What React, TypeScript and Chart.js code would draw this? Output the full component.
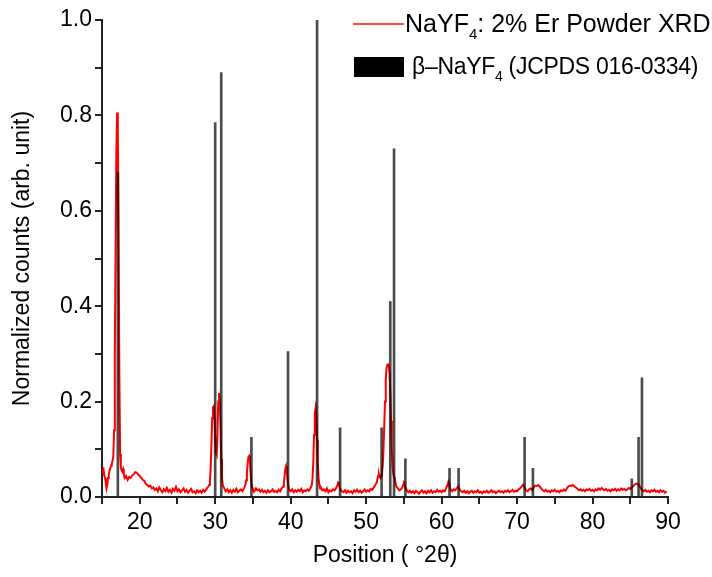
import React, { useEffect, useRef } from "react";
import { Chart, registerables } from "chart.js";

Chart.register(...registerables);

const FONT = "'Liberation Sans', Arial, Helvetica, sans-serif";

// Reference pattern: beta-NaYF4, JCPDS 016-0334 (2theta, normalized intensity)
const stickPositions = [17.1, 30.0, 30.8, 34.8, 39.65, 43.5, 46.55, 52.05, 53.2, 53.7, 55.2, 61.05, 62.25, 71.0, 72.1, 85.2, 86.1, 86.55];
const stickHeights = [0.68, 0.785, 0.89, 0.125, 0.305, 1.0, 0.145, 0.145, 0.41, 0.73, 0.08, 0.06, 0.06, 0.125, 0.06, 0.038, 0.125, 0.25];

// Measured scan: NaYF4:2% Er powder XRD  [2theta, normalized counts]
const xrdScan: [number, number][] = [
  [15.0, 0.060], [15.1, 0.055], [15.2, 0.058], [15.3, 0.045], [15.4, 0.040], [15.5, 0.030], [15.6, 0.018], [15.7, 0.025],
  [15.8, 0.040], [15.9, 0.048], [16.0, 0.055], [16.1, 0.060], [16.2, 0.066], [16.3, 0.070], [16.4, 0.076], [16.5, 0.085],
  [16.6, 0.140], [16.7, 0.300], [16.8, 0.520], [16.9, 0.720], [17.0, 0.806], [17.1, 0.760], [17.2, 0.550], [17.3, 0.250],
  [17.4, 0.090], [17.5, 0.062], [17.6, 0.056], [17.7, 0.053], [17.8, 0.058], [17.9, 0.048],
  [18.0, 0.040], [18.2, 0.044], [18.4, 0.036], [18.6, 0.042], [18.8, 0.040], [19.0, 0.045], [19.2, 0.048], [19.4, 0.052],
  [19.6, 0.051], [19.8, 0.047], [20.0, 0.044], [20.2, 0.040], [20.4, 0.036], [20.6, 0.034], [20.8, 0.028], [21.0, 0.025],
  [21.2, 0.022], [21.4, 0.024], [21.6, 0.018], [21.8, 0.020], [22.0, 0.015],
  [22.2, 0.018], [22.4, 0.012], [22.6, 0.020], [22.8, 0.014], [23.0, 0.010], [23.2, 0.016], [23.4, 0.012], [23.6, 0.019],
  [23.8, 0.011], [24.0, 0.015], [24.2, 0.009], [24.4, 0.017], [24.6, 0.013], [24.8, 0.021], [25.0, 0.012], [25.2, 0.016],
  [25.4, 0.010], [25.6, 0.014], [25.8, 0.018], [26.0, 0.011], [26.2, 0.015], [26.4, 0.009], [26.6, 0.013], [26.8, 0.017],
  [27.0, 0.010], [27.2, 0.012], [27.4, 0.008], [27.6, 0.014], [27.8, 0.010], [28.0, 0.013], [28.2, 0.009], [28.4, 0.015],
  [28.6, 0.011], [28.8, 0.016], [29.0, 0.020],
  [29.2, 0.025], [29.3, 0.035], [29.4, 0.060], [29.5, 0.110], [29.6, 0.165], [29.7, 0.188], [29.8, 0.190], [29.9, 0.170],
  [30.0, 0.120], [30.1, 0.092], [30.2, 0.088], [30.3, 0.130], [30.4, 0.200], [30.5, 0.218], [30.6, 0.205], [30.7, 0.150],
  [30.8, 0.080], [30.9, 0.040], [31.0, 0.025], [31.2, 0.018], [31.4, 0.012],
  [31.6, 0.016], [31.8, 0.010], [32.0, 0.014], [32.2, 0.009], [32.4, 0.015], [32.6, 0.011], [32.8, 0.017], [33.0, 0.010],
  [33.2, 0.013], [33.4, 0.016], [33.6, 0.012], [33.8, 0.018], [34.0, 0.025], [34.1, 0.035], [34.2, 0.050], [34.3, 0.070],
  [34.4, 0.084], [34.5, 0.086], [34.6, 0.075], [34.7, 0.050], [34.8, 0.030], [34.9, 0.020], [35.0, 0.016],
  [35.2, 0.012], [35.4, 0.018], [35.6, 0.014], [35.8, 0.016], [36.0, 0.011], [36.2, 0.015], [36.4, 0.010], [36.6, 0.013],
  [36.8, 0.009], [37.0, 0.014], [37.2, 0.010], [37.4, 0.012], [37.6, 0.016], [37.8, 0.011], [38.0, 0.013], [38.2, 0.010],
  [38.4, 0.015], [38.6, 0.012], [38.8, 0.018], [39.0, 0.022], [39.1, 0.030], [39.2, 0.045], [39.3, 0.060], [39.4, 0.065],
  [39.5, 0.055], [39.6, 0.035], [39.7, 0.022], [39.8, 0.016],
  [40.0, 0.012], [40.2, 0.016], [40.4, 0.010], [40.6, 0.014], [40.8, 0.011], [41.0, 0.015], [41.2, 0.012], [41.4, 0.017],
  [41.6, 0.010], [41.8, 0.014], [42.0, 0.012], [42.2, 0.016], [42.4, 0.013], [42.6, 0.018], [42.8, 0.025], [42.9, 0.040],
  [43.0, 0.075], [43.1, 0.130], [43.2, 0.175], [43.3, 0.186], [43.4, 0.170], [43.5, 0.120], [43.6, 0.070], [43.7, 0.040],
  [43.8, 0.025], [43.9, 0.018], [44.0, 0.020],
  [44.2, 0.014], [44.4, 0.016], [44.6, 0.012], [44.8, 0.018], [45.0, 0.010], [45.2, 0.014], [45.4, 0.012], [45.6, 0.016],
  [45.8, 0.014], [46.0, 0.018], [46.2, 0.025], [46.3, 0.030], [46.4, 0.028], [46.5, 0.020], [46.6, 0.015], [46.8, 0.012],
  [47.0, 0.010], [47.2, 0.014], [47.4, 0.009], [47.6, 0.013], [47.8, 0.010], [48.0, 0.012], [48.2, 0.008], [48.4, 0.014],
  [48.6, 0.011], [48.8, 0.015], [49.0, 0.010], [49.2, 0.013], [49.4, 0.009], [49.6, 0.012], [49.8, 0.016], [50.0, 0.011],
  [50.2, 0.014], [50.4, 0.012], [50.6, 0.017], [50.8, 0.015], [51.0, 0.020], [51.2, 0.025], [51.4, 0.030], [51.5, 0.038],
  [51.6, 0.045], [51.7, 0.048], [51.8, 0.042], [51.9, 0.040], [52.0, 0.045], [52.1, 0.050], [52.2, 0.065], [52.3, 0.100],
  [52.4, 0.150], [52.5, 0.200], [52.6, 0.245], [52.7, 0.270], [52.8, 0.277], [52.9, 0.278], [53.0, 0.275], [53.1, 0.260],
  [53.2, 0.220], [53.3, 0.160], [53.4, 0.100], [53.5, 0.065], [53.6, 0.048], [53.7, 0.042], [53.8, 0.038], [53.9, 0.030],
  [54.0, 0.022], [54.2, 0.018], [54.4, 0.014], [54.6, 0.016], [54.8, 0.020], [54.9, 0.025], [55.0, 0.030], [55.1, 0.028],
  [55.2, 0.020], [55.4, 0.014], [55.6, 0.010],
  [55.8, 0.013], [56.0, 0.009], [56.2, 0.012], [56.4, 0.008], [56.6, 0.013], [56.8, 0.010], [57.0, 0.007], [57.2, 0.011],
  [57.4, 0.014], [57.6, 0.009], [57.8, 0.012], [58.0, 0.008], [58.2, 0.013], [58.4, 0.010], [58.6, 0.014], [58.8, 0.009],
  [59.0, 0.012], [59.2, 0.010], [59.4, 0.015], [59.6, 0.011], [59.8, 0.013], [60.0, 0.010], [60.2, 0.014], [60.4, 0.012],
  [60.6, 0.018], [60.8, 0.026], [60.9, 0.032], [61.0, 0.028], [61.1, 0.020], [61.2, 0.015], [61.4, 0.012], [61.6, 0.016],
  [61.8, 0.014], [62.0, 0.018], [62.2, 0.022], [62.4, 0.016], [62.6, 0.012], [62.8, 0.010],
  [63.0, 0.013], [63.2, 0.009], [63.4, 0.012], [63.6, 0.008], [63.8, 0.011], [64.0, 0.013], [64.2, 0.009], [64.4, 0.012],
  [64.6, 0.010], [64.8, 0.014], [65.0, 0.009], [65.2, 0.011], [65.4, 0.008], [65.6, 0.012], [65.8, 0.010], [66.0, 0.013],
  [66.2, 0.009], [66.4, 0.011], [66.6, 0.014], [66.8, 0.010], [67.0, 0.012], [67.2, 0.008], [67.4, 0.011], [67.6, 0.013],
  [67.8, 0.010], [68.0, 0.012], [68.2, 0.009], [68.4, 0.013], [68.6, 0.011], [68.8, 0.014], [69.0, 0.010], [69.2, 0.012],
  [69.4, 0.015], [69.6, 0.011], [69.8, 0.013], [70.0, 0.012], [70.2, 0.016], [70.4, 0.018], [70.6, 0.022], [70.8, 0.026],
  [71.0, 0.020], [71.2, 0.014], [71.4, 0.012], [71.6, 0.016], [71.8, 0.018], [72.0, 0.015], [72.2, 0.020], [72.4, 0.024],
  [72.6, 0.023], [72.8, 0.025], [73.0, 0.022], [73.2, 0.018], [73.4, 0.014], [73.6, 0.012], [73.8, 0.015], [74.0, 0.011],
  [74.2, 0.013], [74.4, 0.010], [74.6, 0.014], [74.8, 0.012], [75.0, 0.015], [75.2, 0.011], [75.4, 0.013], [75.6, 0.010],
  [75.8, 0.014], [76.0, 0.012], [76.2, 0.016], [76.4, 0.013], [76.6, 0.018], [76.8, 0.022], [77.0, 0.024], [77.2, 0.023],
  [77.4, 0.025], [77.6, 0.022], [77.8, 0.020], [78.0, 0.017], [78.2, 0.014], [78.4, 0.016], [78.6, 0.013], [78.8, 0.015],
  [79.0, 0.012], [79.2, 0.016], [79.4, 0.014], [79.6, 0.017], [79.8, 0.013], [80.0, 0.015], [80.2, 0.012], [80.4, 0.016],
  [80.6, 0.014], [80.8, 0.018], [81.0, 0.015], [81.2, 0.019], [81.4, 0.016], [81.6, 0.014], [81.8, 0.017], [82.0, 0.013],
  [82.2, 0.015], [82.4, 0.012], [82.6, 0.016], [82.8, 0.014], [83.0, 0.017], [83.2, 0.013], [83.4, 0.016], [83.6, 0.014],
  [83.8, 0.018], [84.0, 0.015], [84.2, 0.017], [84.4, 0.014], [84.6, 0.016], [84.8, 0.019], [85.0, 0.017], [85.2, 0.020],
  [85.4, 0.023], [85.6, 0.026], [85.8, 0.028], [86.0, 0.027], [86.2, 0.024], [86.4, 0.018], [86.6, 0.014], [86.8, 0.012],
  [87.0, 0.015], [87.2, 0.011], [87.4, 0.013], [87.6, 0.010], [87.8, 0.014], [88.0, 0.012], [88.2, 0.015], [88.4, 0.011],
  [88.6, 0.013], [88.8, 0.010], [89.0, 0.014], [89.2, 0.011], [89.4, 0.013], [89.6, 0.009], [89.8, 0.012],
];

const X_MIN = 15;
const X_MAX = 90;
const Y_MIN = 0;
const Y_MAX = 1.0;

export default function App() {
  const canvasRef = useRef<HTMLCanvasElement | null>(null);

  useEffect(() => {
    const canvas = canvasRef.current;
    if (!canvas) return;
    const chart = new Chart(canvas, {
      type: "line",
      data: {
        datasets: [
          {
            type: "bar",
            label: "β–NaYF4 (JCPDS 016-0334)",
            data: stickPositions.map((x, i) => ({ x, y: stickHeights[i] })),
            backgroundColor: "rgba(0,0,0,0.7)",
            borderWidth: 0,
            barThickness: 2,
            order: 0,
          } as any,
          {
            type: "line",
            label: "NaYF4: 2% Er Powder XRD",
            data: xrdScan.map(([x, y]) => ({ x, y })),
            borderColor: "#ff0000",
            borderWidth: 2,
            pointRadius: 0,
            tension: 0,
            fill: false,
            order: 1,
          } as any,
        ],
      },
      options: {
        animation: false,
        responsive: false,
        layout: { padding: { left: 0, right: 44, top: 20, bottom: 0 } },
        plugins: {
          legend: { display: false },
          tooltip: { enabled: false },
        },
        scales: {
          x: {
            type: "linear",
            min: X_MIN,
            max: X_MAX,
            offset: false,
            afterFit: (s: any) => {
              s.height = 80;
            },
            grid: {
              drawOnChartArea: false,
              drawTicks: true,
              tickLength: 7,
              color: "#222",
              lineWidth: 2,
              offset: false,
            },
            border: { display: true, color: "#222", width: 2 },
            ticks: {
              stepSize: 5,
              autoSkip: false,
              maxRotation: 0,
              padding: 5,
              color: "#000",
              font: { family: FONT, size: 23 },
              callback: (v: any) => (Number(v) % 10 === 0 ? String(v) : ""),
            },
            title: {
              display: true,
              text: "Position ( °2θ)",
              color: "#000",
              font: { family: FONT, size: 23 },
              padding: { top: 0, bottom: 8 },
            },
          },
          y: {
            type: "linear",
            min: Y_MIN,
            max: Y_MAX,
            afterFit: (s: any) => {
              s.width = 102;
            },
            grid: {
              drawOnChartArea: false,
              drawTicks: true,
              tickLength: 7,
              color: "#222",
              lineWidth: 2,
            },
            border: { display: true, color: "#222", width: 2 },
            ticks: {
              stepSize: 0.1,
              autoSkip: false,
              padding: 3,
              color: "#000",
              font: { family: FONT, size: 23 },
              callback: (v: any) => {
                const n = Math.round(Number(v) * 10);
                return n % 2 === 0 ? (n / 10).toFixed(1) : "";
              },
            },
            title: {
              display: true,
              text: "Normalized counts (arb. unit)",
              color: "#000",
              font: { family: FONT, size: 23 },
              padding: { top: 9, bottom: 0 },
            },
          },
        },
      },
    });
    return () => chart.destroy();
  }, []);

  const textStyle: React.CSSProperties = {
    position: "absolute",
    fontFamily: FONT,
    fontSize: 25,
    lineHeight: "25px",
    whiteSpace: "nowrap",
    color: "#000",
  };
  const subStyle: React.CSSProperties = { fontSize: 15, position: "relative", top: 7 };

  return (
    <div style={{ position: "fixed", left: 0, top: 0, width: 712, height: 577, background: "#fff" }}>
      <canvas ref={canvasRef} width={712} height={577} style={{ display: "block" }} />
      <div style={{ position: "absolute", left: 353, top: 23, width: 51, height: 2, background: "#ff4a4a" }} />
      <div style={{ ...textStyle, left: 405, top: 11 }}>
        NaYF<span style={subStyle}>4</span>: 2% Er Powder XRD
      </div>
      <div style={{ position: "absolute", left: 354, top: 57, width: 50, height: 20, background: "#000" }} />
      <div style={{ ...textStyle, left: 412, top: 55, fontSize: 23, lineHeight: "23px", letterSpacing: "-0.3px" }}>
        β–NaYF<span style={{ ...subStyle, fontSize: 14 }}>4</span> (JCPDS 016-0334)
      </div>
    </div>
  );
}
